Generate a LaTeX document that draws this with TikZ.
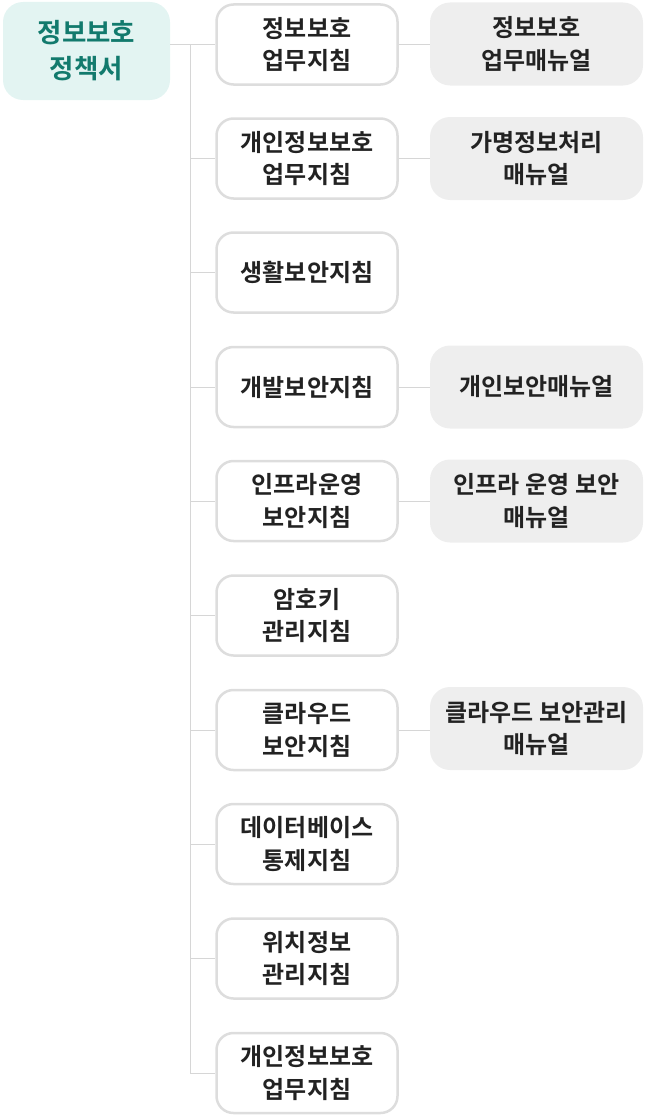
\documentclass[tikz,border=0pt]{standalone}
\usepackage{fontspec}
\setmainfont{Noto Sans CJK KR}[BoldFont={Noto Sans CJK KR Bold}]
\usetikzlibrary{positioning}

\definecolor{rootfill}{HTML}{E3F4F2}
\definecolor{roottext}{HTML}{127A6D}
\definecolor{boxline}{HTML}{DDDDDD}
\definecolor{manfill}{HTML}{EEEEEE}
\definecolor{linkgray}{HTML}{D6D6D6}
\definecolor{txt}{HTML}{222222}

\tikzset{
    policy/.style={fill=rootfill, rounded corners=20pt, minimum width=167pt, minimum height=98pt,
        text=roottext, align=center, font=\fontsize{26.5}{36}\selectfont\bfseries},
    guide/.style={draw=boxline, line width=2.5pt, fill=white, rounded corners=17pt,
        minimum width=181pt, minimum height=80pt, text=txt, align=center,
        font=\fontsize{24}{32.5}\selectfont\bfseries},
    manual/.style={fill=manfill, rounded corners=20pt, minimum width=213pt, minimum height=83pt,
        text=txt, align=center, font=\fontsize{24}{32.5}\selectfont\bfseries},
    link/.style={draw=linkgray, line width=1pt}
}

\begin{document}
\begin{tikzpicture}[x=1pt, y=1pt]
    \useasboundingbox (0, 0) rectangle (647, -1116);

    % policy
    \node[policy] (root) at (86.5, -51) {정보보호\\정책서};

    % guidelines
    \node[guide] (m1) at (307, -44.5) {정보보호\\업무지침};
    \node[guide] (m2) at (307, -158.5) {개인정보보호\\업무지침};
    \node[guide] (m3) at (307, -272.5) {생활보안지침};
    \node[guide] (m4) at (307, -387) {개발보안지침};
    \node[guide] (m5) at (307, -501) {인프라운영\\보안지침};
    \node[guide] (m6) at (307, -615.5) {암호키\\관리지침};
    \node[guide] (m7) at (307, -730) {클라우드\\보안지침};
    \node[guide] (m8) at (307, -844) {데이터베이스\\통제지침};
    \node[guide] (m9) at (307, -958.5) {위치정보\\관리지침};
    \node[guide] (m10) at (307, -1073) {개인정보보호\\업무지침};

    % manuals
    \node[manual] (u1) at (536.5, -44) {정보보호\\업무매뉴얼};
    \node[manual] (u2) at (536.5, -158.5) {가명정보처리\\매뉴얼};
    \node[manual] (u4) at (536.5, -387) {개인보안매뉴얼};
    \node[manual] (u5) at (536.5, -501) {인프라 운영 보안\\매뉴얼};
    \node[manual] (u7) at (536.5, -728.5) {클라우드 보안관리\\매뉴얼};

    % connectors
    \coordinate (trunk) at (190, 0);
    \draw[link] (root.east |- m1.west) -- (m1.west);
    \draw[link] (trunk |- m1.west) -- (trunk |- m10.west);
    \foreach \i in {2,...,10}
        \draw[link] (trunk |- m\i.west) -- (m\i.west);
    \foreach \i in {1,2,4,5,7}
        \draw[link] (m\i.east) -- (m\i.east -| u\i.west);
\end{tikzpicture}
\end{document}
